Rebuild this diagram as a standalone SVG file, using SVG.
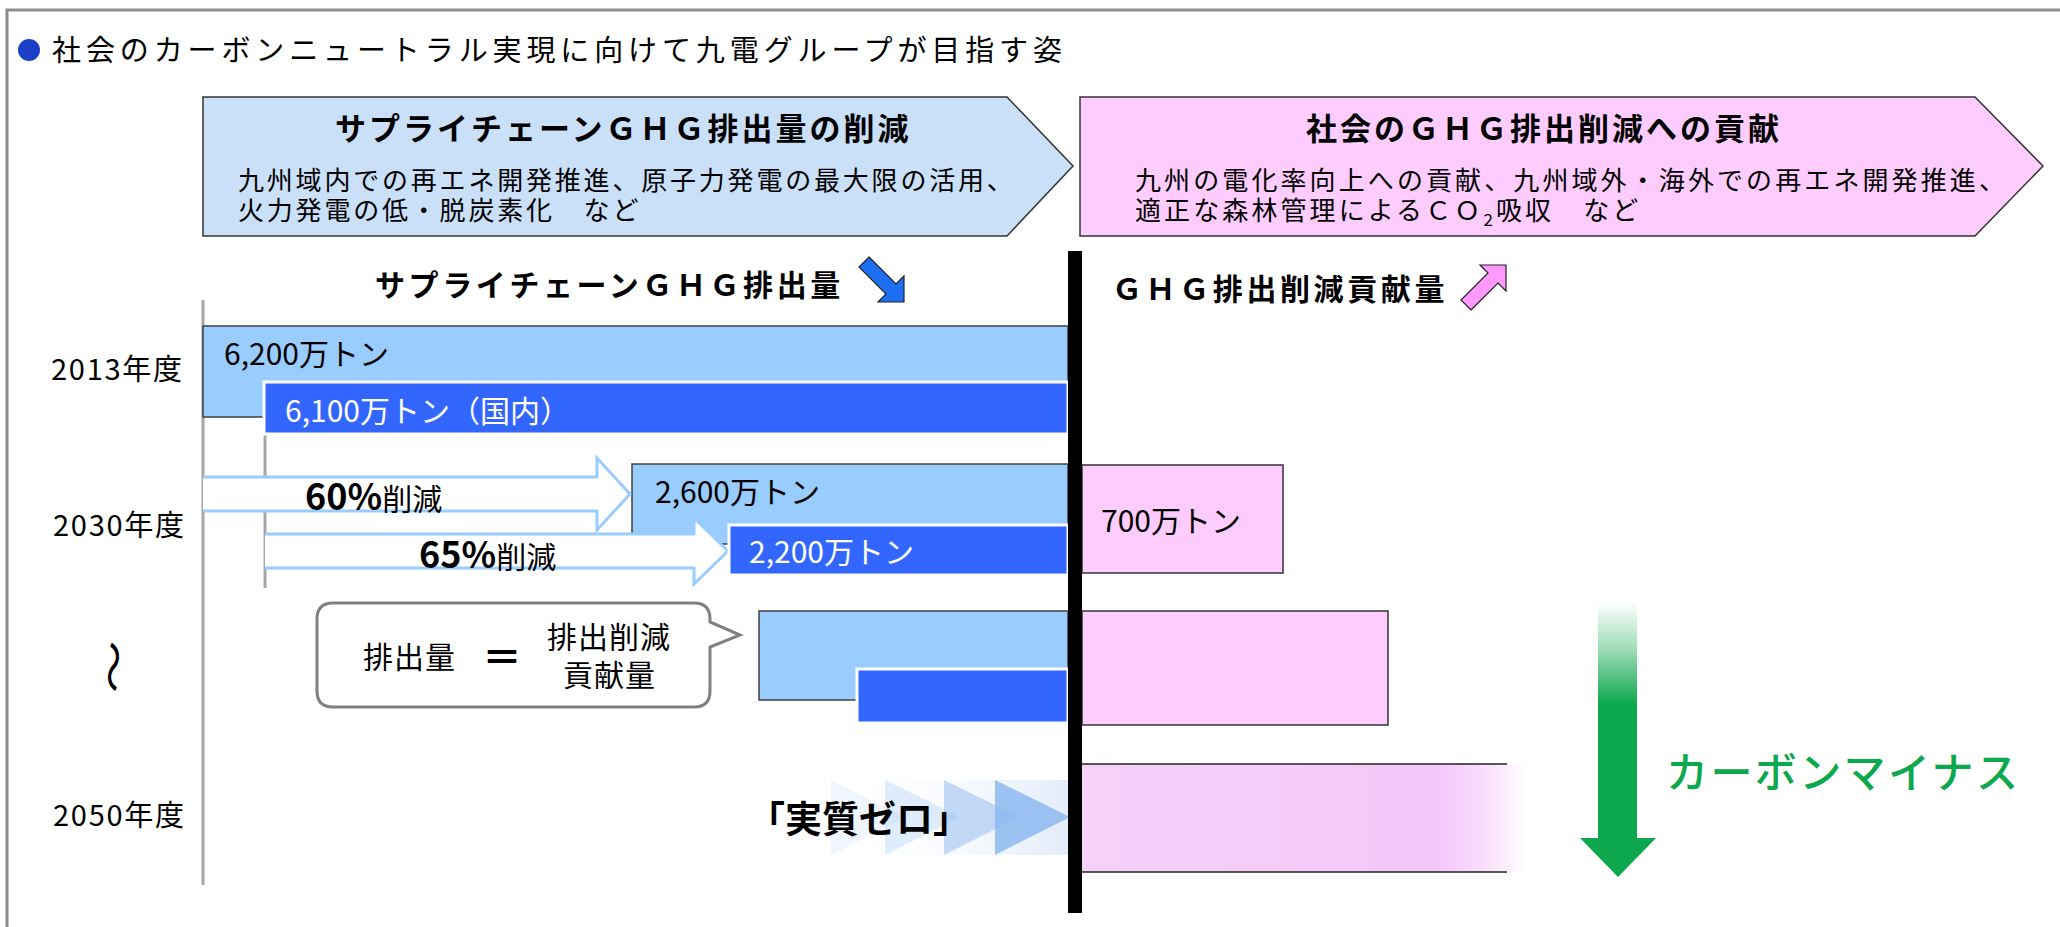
<svg xmlns="http://www.w3.org/2000/svg" width="2060" height="927" viewBox="0 0 2060 927">
<style>
text{font-family:"Noto Sans CJK JP","Noto Sans",sans-serif;fill:#000}
.title{font-size:29px}
.head{font-size:31px;font-weight:bold;letter-spacing:3px}
.sub{font-size:26px;letter-spacing:2.8px}
.subp{font-size:26px;letter-spacing:3.1px}
.sec{font-size:30px;font-weight:bold;letter-spacing:3.6px}
.year{font-size:29px}
.val{font-size:30px}
.wval{font-size:30px;fill:#fff}
.pct{font-size:36px;font-weight:bold}
.red{font-size:30px}
.call{font-size:30px}
.lb{fill:#99CCFF;stroke:#404040;stroke-width:1.5}
.db{fill:#3366FF;stroke:#fff;stroke-width:3}
.pk{fill:#FFCCFF;stroke:#333;stroke-width:1.5}
.axis{stroke:#A6A6A6;stroke-width:3;fill:none}
.redarrow{fill:#fff;stroke:#99CCFF;stroke-width:3}
</style>
<defs>
<linearGradient id="pinkFade" x1="0" y1="0" x2="1" y2="0">
<stop offset="0" stop-color="#F6D2FA"/>
<stop offset="0.8" stop-color="#F5C6FA"/>
<stop offset="0.9" stop-color="#FADDFC"/>
<stop offset="1" stop-color="#FFFFFF"/>
</linearGradient>
<linearGradient id="greenFade" x1="0" y1="0" x2="0" y2="1">
<stop offset="0" stop-color="#0DA84D" stop-opacity="0"/>
<stop offset="0.2" stop-color="#0DA84D" stop-opacity="0.4"/>
<stop offset="0.43" stop-color="#0DA84D" stop-opacity="1"/>
<stop offset="1" stop-color="#0DA84D" stop-opacity="1"/>
</linearGradient>
<linearGradient id="chevBg" x1="0" y1="0" x2="1" y2="0">
<stop offset="0" stop-color="#FFFFFF" stop-opacity="0"/>
<stop offset="1" stop-color="#DCE8F8" stop-opacity="1"/>
</linearGradient>
</defs>

<rect x="7" y="10" width="2100" height="1000" fill="none" stroke="#8C8C8C" stroke-width="3"/>

<g id="title">
<circle cx="29" cy="50" r="11" fill="#1B3FC6"/>
<text class="title" x="52" y="61" textLength="1010" lengthAdjust="spacing">社会のカーボンニュートラル実現に向けて九電グループが目指す姿</text>
</g>

<g id="supply-chevron">
<polygon points="203,97 1007,97 1073,166 1007,236 203,236" fill="#CADFF8" stroke="#333" stroke-width="1.5"/>
<text class="head" x="335" y="140">サプライチェーンＧＨＧ排出量の削減</text>
<text class="sub" x="238" y="190">九州域内での再エネ開発推進、原子力発電の最大限の活用、</text>
<text class="sub" x="238" y="220">火力発電の低・脱炭素化　など</text>
</g>

<g id="society-chevron">
<polygon points="1080,97 1975,97 2043,166 1975,236 1080,236" fill="#FFCCFF" stroke="#333" stroke-width="1.5"/>
<text class="head" x="1306" y="140">社会のＧＨＧ排出削減への貢献</text>
<text class="subp" x="1135" y="190">九州の電化率向上への貢献、九州域外・海外での再エネ開発推進、</text>
<text class="subp" x="1135" y="220">適正な森林管理によるＣＯ<tspan font-size="17" dy="6">2</tspan><tspan dy="-6">吸収　など</tspan></text>
</g>

<g id="header-emission">
<text class="sec" x="375" y="296">サプライチェーンＧＨＧ排出量</text>
<polygon points="869,257 896,284 904,276 904,302 878,302 886,294 859,267" fill="#1C6EF2" stroke="#222" stroke-width="1.2"/>
</g>

<g id="header-contribution">
<text class="sec" x="1112" y="300">ＧＨＧ排出削減貢献量</text>
<polygon points="1471,310 1498,283 1506,291 1506,265 1480,265 1488,273 1461,300" fill="#FF99FF" stroke="#222" stroke-width="1.2"/>
</g>

<g id="axes">
<line class="axis" x1="203" y1="300" x2="203" y2="885"/>
<line class="axis" x1="265" y1="382" x2="265" y2="588"/>
</g>

<g id="year-labels">
<text class="year" x="51" y="380" textLength="131" lengthAdjust="spacing">2013年度</text>
<text class="year" x="53" y="536" textLength="131" lengthAdjust="spacing">2030年度</text>
<text transform="translate(116,667) rotate(90) scale(1.1,0.8)" font-size="48" text-anchor="middle" dominant-baseline="central">〜</text>
<text class="year" x="53" y="826" textLength="131" lengthAdjust="spacing">2050年度</text>
</g>

<g id="bar-2013-total">
<rect class="lb" x="203" y="326" width="865" height="91"/>
<text class="val" x="224" y="365">6,200万トン</text>
</g>
<g id="bar-2013-domestic">
<rect class="db" x="264" y="382" width="804" height="52"/>
<text class="wval" x="285" y="422">6,100万トン（国内）</text>
</g>

<g id="bar-2030-total">
<rect class="lb" x="632" y="464" width="436" height="80"/>
<text class="val" x="655" y="503">2,600万トン</text>
</g>

<g id="arrow-60">
<path class="redarrow" d="M203,477 H597 V458 L630,494 L597,530 V511 H203"/>
<text x="305" y="510"><tspan class="pct">60%</tspan><tspan class="red">削減</tspan></text>
</g>

<g id="arrow-65">
<path class="redarrow" d="M265,534 H694 V518 L728,551 L694,584 V568 H265"/>
<text x="419" y="568"><tspan class="pct">65%</tspan><tspan class="red">削減</tspan></text>
</g>

<g id="bar-2030-domestic">
<rect class="db" x="729" y="525" width="339" height="50"/>
<text class="wval" x="749" y="563">2,200万トン</text>
</g>

<g id="bar-2030-contribution">
<rect class="pk" x="1082" y="465" width="201" height="108"/>
<text class="val" x="1101" y="532">700万トン</text>
</g>

<g id="callout">
<path d="M333,603 H694 Q710,603 710,619 V622 L740,635 L710,647 V691 Q710,707 694,707 H333 Q317,707 317,691 V619 Q317,603 333,603 Z" fill="#fff" stroke="#808080" stroke-width="3"/>
<text class="call" x="363" y="668" letter-spacing="1">排出量</text>
<text x="502" y="672" font-size="40" font-weight="bold" text-anchor="middle">＝</text>
<text class="call" x="547" y="648" letter-spacing="1">排出削減</text>
<text class="call" x="563" y="686" letter-spacing="1">貢献量</text>
</g>

<g id="bar-mid-total">
<rect class="lb" x="759" y="611" width="309" height="89"/>
</g>
<g id="bar-mid-domestic">
<rect class="db" x="857" y="669" width="211" height="54"/>
</g>
<g id="bar-mid-contribution">
<rect class="pk" x="1082" y="611" width="306" height="114"/>
</g>

<g id="net-zero">
<rect x="831" y="780" width="237" height="75" fill="url(#chevBg)" fill-opacity="0.8"/>
<polygon points="831,780 906,817 831,855" fill="#9CC3F2" fill-opacity="0.15"/>
<polygon points="885,780 960,817 885,855" fill="#9CC3F2" fill-opacity="0.3"/>
<polygon points="944,780 1019,817 944,855" fill="#8DB8F0" fill-opacity="0.5"/>
<polygon points="995,780 1070,817 995,855" fill="#8DB8F0" fill-opacity="0.85"/>
<text x="748" y="833" font-size="37" font-weight="bold">「実質ゼロ」</text>
</g>

<g id="bar-2050-contribution">
<rect x="1082" y="764" width="445" height="108" fill="url(#pinkFade)"/>
<line x1="1082" y1="764" x2="1507" y2="764" stroke="#222" stroke-width="1.5"/>
<line x1="1082" y1="872" x2="1507" y2="872" stroke="#222" stroke-width="1.5"/>
</g>

<g id="center-line">
<rect x="1068" y="251" width="14" height="662" fill="#000"/>
</g>

<g id="carbon-minus">
<rect x="1598" y="602" width="39" height="237" fill="url(#greenFade)"/>
<polygon points="1580,838 1656,838 1618,877" fill="#0DA84D"/>
<text x="1666" y="788" font-size="42" letter-spacing="2.4" style="fill:#0DA84D;font-weight:500">カーボンマイナス</text>
</g>
</svg>
